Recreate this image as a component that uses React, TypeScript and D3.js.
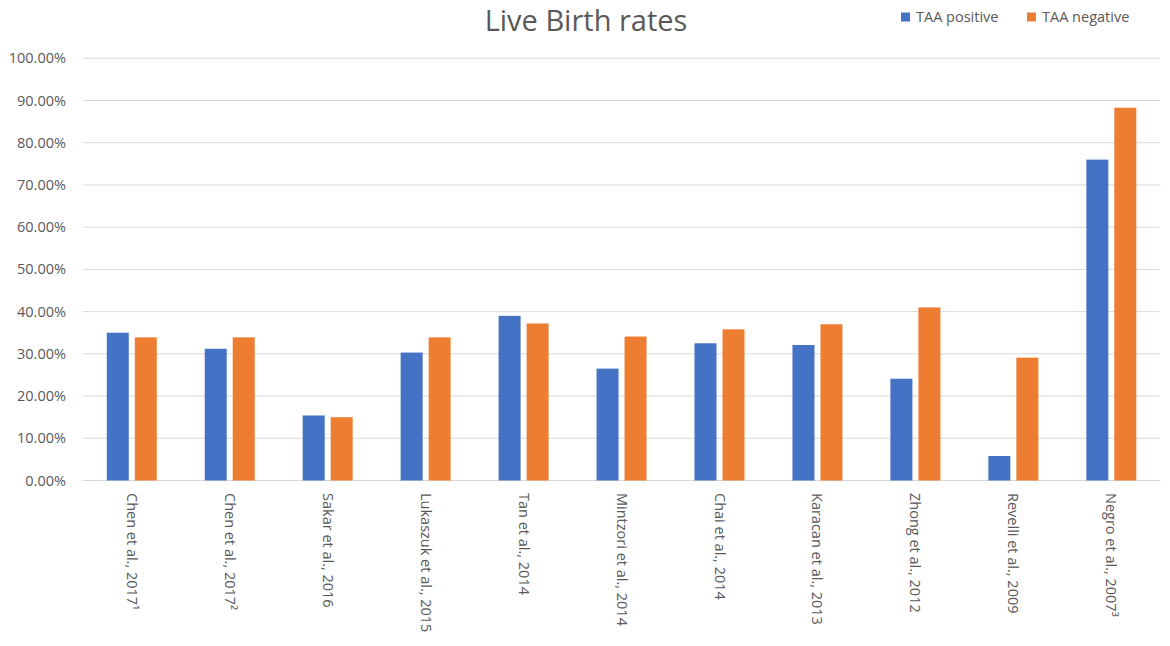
import React from "react";
import * as d3 from "d3";

const categories = [
  "Chen et al., 2017¹",
  "Chen et al., 2017²",
  "Sakar et al., 2016",
  "Lukaszuk et al., 2015",
  "Tan et al., 2014",
  "Mintzori et al., 2014",
  "Chai et al., 2014",
  "Karacan et al., 2013",
  "Zhong et al., 2012",
  "Revelli et al., 2009",
  "Negro et al., 2007³",
];
const taaPositive = [0.35, 0.312, 0.154, 0.303, 0.39, 0.265, 0.325, 0.321, 0.241, 0.058, 0.76];
const taaNegative = [0.339, 0.339, 0.15, 0.339, 0.372, 0.341, 0.358, 0.37, 0.41, 0.291, 0.883];
const seriesNames = ["TAA positive", "TAA negative"];
const seriesColors = ["#4472C4", "#ED7D31"];
const yTicks = [0, 0.1, 0.2, 0.3, 0.4, 0.5, 0.6, 0.7, 0.8, 0.9, 1.0];

const W = 1170;
const H = 646;
const FONT = "'Open Sans', 'Noto Sans', sans-serif";
const TEXT = "#595959";

export default function App() {
  const plotLeft = 82.8;
  const plotRight = 1160.3;
  const plotTop = 58.3;
  const plotBottom = 480.5;

  const x0 = d3.scaleBand<string>().domain(categories).range([plotLeft, plotRight]).padding(0);
  const groupW = 50;
  const x1 = d3
    .scaleBand<string>()
    .domain(seriesNames)
    .range([0, groupW])
    .paddingInner(6 / 28)
    .paddingOuter(0);
  const y = d3.scaleLinear().domain([0, 1]).range([plotBottom, plotTop]);
  const fmt = d3.format(".2%");
  const seriesValues = [taaPositive, taaNegative];

  return (
    <svg
      width={W}
      height={H}
      style={{ position: "absolute", left: 0, top: 0, background: "#fff" }}
      fontFamily={FONT}
    >
      <rect x={0} y={0} width={W} height={H} fill="#fff" />
      <text x={586} y={31} textAnchor="middle" fontSize={29} fill={TEXT}>
        Live Birth rates
      </text>

      {/* legend */}
      {seriesNames.map((s, i) => {
        const lx = i === 0 ? 901 : 1027;
        return (
          <g key={s}>
            <rect x={lx} y={12.5} width={9} height={9} fill={seriesColors[i]} />
            <text x={lx + 15} y={22} fontSize={14.5} fill={TEXT}>
              {s}
            </text>
          </g>
        );
      })}

      {/* gridlines & y labels */}
      {yTicks.map((t) => (
        <g key={t}>
          <line x1={plotLeft} x2={plotRight} y1={y(t)} y2={y(t)} stroke="#D9D9D9" strokeWidth={1} />
          <text x={66} y={y(t) + 5} textAnchor="end" fontSize={14.5} fill={TEXT}>
            {fmt(t)}
          </text>
        </g>
      ))}

      {/* bars */}
      {categories.map((c, ci) => {
        const gx = (x0(c) as number) + x0.bandwidth() / 2 - groupW / 2;
        return (
          <g key={c}>
            {seriesNames.map((s, si) => {
              const v = seriesValues[si][ci];
              return (
                <rect
                  key={s}
                  x={gx + (x1(s) as number)}
                  y={y(v)}
                  width={x1.bandwidth()}
                  height={plotBottom - y(v)}
                  fill={seriesColors[si]}
                />
              );
            })}
          </g>
        );
      })}

      {/* category labels */}
      {categories.map((c) => {
        const cx = (x0(c) as number) + x0.bandwidth() / 2;
        return (
          <text
            key={c}
            transform={`translate(${cx - 5},${493}) rotate(90)`}
            fontSize={14.5}
            fill={TEXT}
            textAnchor="start"
          >
            {c}
          </text>
        );
      })}
    </svg>
  );
}
